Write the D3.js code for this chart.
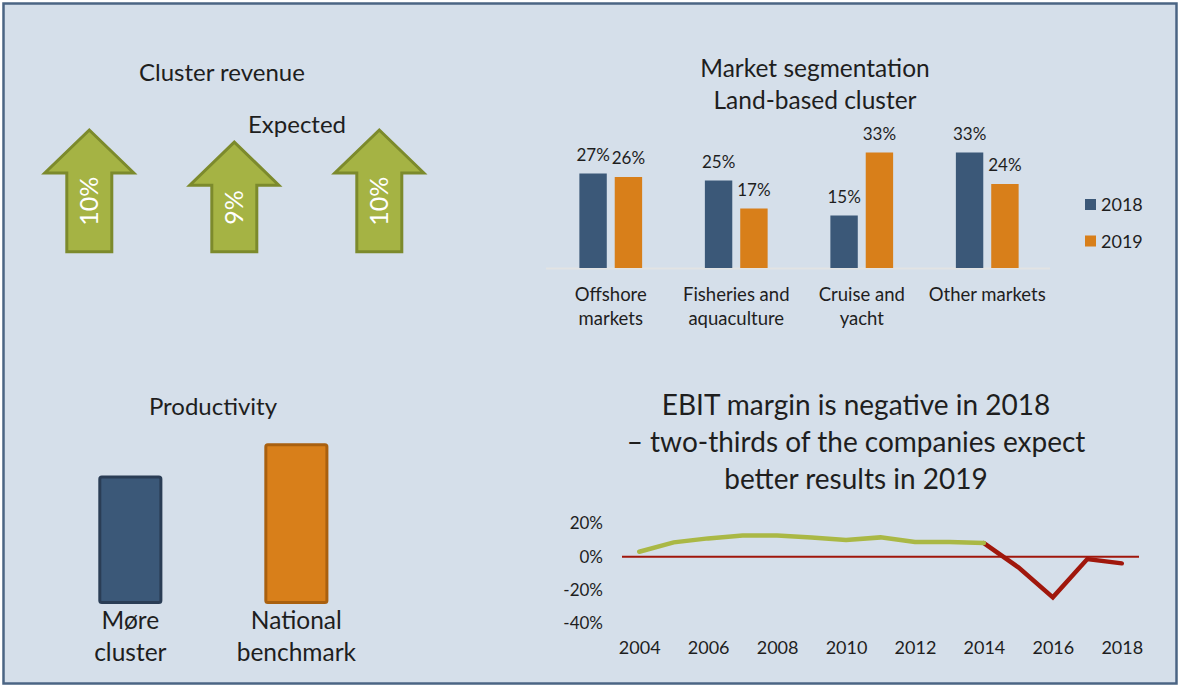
<!DOCTYPE html>
<meta charset="utf-8" />
<script src="https://d3js.org/d3.v7.min.js"></script>
<div id="my_dataviz"></div>
<script>
  // ---- data ----
  const revenueLabels = ["10%", "9%", "10%"];
  const revenueValues = [10, 9, 10];

  const segCategories = [
    ["Offshore", "markets"],
    ["Fisheries and", "aquaculture"],
    ["Cruise and", "yacht"],
    ["Other markets"],
  ];
  const segYears = ["2018", "2019"];
  const seg2018 = [27, 25, 15, 33];
  const seg2019 = [26, 17, 33, 24];

  const prodLabels = [["Møre", "cluster"], ["National", "benchmark"]];
  const prodValues = [80, 100];

  const ebitYears = d3.range(2004, 2019);
  const ebitValues = [3, 8.6, 11, 12.8, 12.8, 11.6, 10, 11.6, 8.8, 8.8, 8.2, -6.4, -24.4, -1.4, -4];
  const ebitTicks = [20, 0, -20, -40];
  const ebitXTicks = [2004, 2006, 2008, 2010, 2012, 2014, 2016, 2018];

  // ---- setup ----
  const W = 1179, H = 686;
  const blue = "#3b5878", orange = "#d87f1a", ink = "#1e1e1e";
  const font = "Lato, 'Open Sans', sans-serif";

  const svg = d3
    .select("#my_dataviz")
    .append("svg")
    .attr("width", W)
    .attr("height", H)
    .style("font-family", font);

  // panel background + frame
  svg
    .append("rect")
    .attr("x", 3.5)
    .attr("y", 3.5)
    .attr("width", W - 6)
    .attr("height", H - 6)
    .attr("fill", "#d5dfea")
    .attr("stroke", "#4b6584")
    .attr("stroke-width", 2.5);

  function title(x, y, txt, size) {
    svg
      .append("text")
      .attr("x", x)
      .attr("y", y)
      .attr("text-anchor", "middle")
      .style("font-size", size + "px")
      .style("fill", ink)
      .text(txt);
  }

  // ---- Cluster revenue arrows ----
  title(222, 81, "Cluster revenue", 24);
  title(297, 133, "Expected", 24);

  const ax = d3.scaleBand().domain(d3.range(3)).range([16.8, 451.8]);
  const ah = d3.scaleLinear().domain([0, 10]).range([0, 121.7]);
  const arrowBase = 251.7;

  revenueValues.forEach((v, i) => {
    const cx = ax(i) + ax.bandwidth() / 2;
    const top = arrowBase - ah(v);
    const headH = 43, headW = 44.5, shaftW = 22.5;
    const pts = [
      [cx, top],
      [cx + headW, top + headH],
      [cx + shaftW, top + headH],
      [cx + shaftW, arrowBase],
      [cx - shaftW, arrowBase],
      [cx - shaftW, top + headH],
      [cx - headW, top + headH],
    ];
    svg
      .append("path")
      .attr("d", d3.line()(pts) + "Z")
      .attr("fill", "#a5b344")
      .attr("stroke", "#7c8a2c")
      .attr("stroke-width", 3)
      .attr("stroke-linejoin", "miter");
    // label sits in the upper part of the shaft
    const ty = (top + headH + arrowBase) / 2 - 11;
    svg
      .append("text")
      .attr("transform", `translate(${cx + 9}, ${ty}) rotate(-90)`)
      .attr("text-anchor", "middle")
      .style("font-size", "25px")
      .style("fill", "#ffffff")
      .text(revenueLabels[i]);
  });

  // ---- Market segmentation ----
  title(815, 77, "Market segmentation", 24.5);
  title(815, 109, "Land-based cluster", 24.5);

  const segData = segCategories.map((c, i) => ({
    key: i,
    values: [
      { year: "2018", v: seg2018[i] },
      { year: "2019", v: seg2019[i] },
    ],
  }));

  const x0 = d3
    .scaleBand()
    .domain(d3.range(segCategories.length))
    .range([548, 1050])
    .paddingInner(0.5)
    .paddingOuter(0.25);
  const x1 = d3.scaleBand().domain(segYears).range([0, x0.bandwidth()]).paddingInner(0.225);
  const yS = d3.scaleLinear().domain([0, 33]).range([268, 268 - 115.5]);
  const segColor = d3.scaleOrdinal().domain(segYears).range([blue, orange]);

  svg
    .append("line")
    .attr("x1", 546)
    .attr("x2", 1050)
    .attr("y1", 268.5)
    .attr("y2", 268.5)
    .attr("stroke", "#e2e3e3")
    .attr("stroke-width", 2);

  const groups = svg
    .selectAll(".grp")
    .data(segData)
    .join("g")
    .attr("transform", (d) => `translate(${x0(d.key)},0)`);

  groups
    .selectAll("rect")
    .data((d) => d.values)
    .join("rect")
    .attr("x", (d) => x1(d.year))
    .attr("y", (d) => yS(d.v))
    .attr("width", x1.bandwidth())
    .attr("height", (d) => yS(0) - yS(d.v))
    .attr("fill", (d) => segColor(d.year));

  groups
    .selectAll("text.lbl")
    .data((d) => d.values)
    .join("text")
    .attr("class", "lbl")
    .attr("x", (d) => x1(d.year) + x1.bandwidth() / 2)
    .attr("y", (d) => yS(d.v) - 13)
    .attr("text-anchor", "middle")
    .style("font-size", "17px")
    .style("fill", ink)
    .text((d) => d.v + "%");

  segCategories.forEach((lines, i) => {
    const t = svg
      .append("text")
      .attr("text-anchor", "middle")
      .style("font-size", "18.5px")
      .style("fill", ink);
    lines.forEach((l, j) => {
      t.append("tspan")
        .attr("x", x0(i) + x0.bandwidth() / 2)
        .attr("y", 301 + j * 24)
        .text(l);
    });
  });

  // legend
  segYears.forEach((yr, i) => {
    svg
      .append("rect")
      .attr("x", 1085)
      .attr("y", 199 + i * 36.5)
      .attr("width", 11)
      .attr("height", 11)
      .attr("fill", segColor(yr));
    svg
      .append("text")
      .attr("x", 1101)
      .attr("y", 211 + i * 36.5)
      .style("font-size", "18px")
      .style("fill", ink)
      .text(yr);
  });

  // ---- Productivity ----
  title(213, 415, "Productivity", 24);

  const px = d3
    .scaleBand()
    .domain(d3.range(2))
    .range([47, 379.7])
    .paddingInner(0.614)
    .paddingOuter(0.309);
  const py = d3.scaleLinear().domain([0, 100]).range([604, 443.3]);
  const prodFill = [blue, orange];
  const prodStroke = ["#2a3d55", "#a9600f"];

  prodValues.forEach((v, i) => {
    svg
      .append("rect")
      .attr("x", px(i) + 1.5)
      .attr("y", py(v) + 1.5)
      .attr("width", px.bandwidth() - 3)
      .attr("height", py(0) - py(v) - 3)
      .attr("rx", 2)
      .attr("fill", prodFill[i])
      .attr("stroke", prodStroke[i])
      .attr("stroke-width", 3);
    const t = svg
      .append("text")
      .attr("text-anchor", "middle")
      .style("font-size", "24.5px")
      .style("fill", ink);
    prodLabels[i].forEach((l, j) => {
      t.append("tspan")
        .attr("x", px(i) + px.bandwidth() / 2)
        .attr("y", 629 + j * 32)
        .text(l);
    });
  });

  // ---- EBIT margin ----
  title(856, 415, "EBIT margin is negative in 2018", 28);
  title(856, 452, "– two-thirds of the companies expect", 28);
  title(856, 489, "better results in 2019", 28);

  const lx = d3.scaleLinear().domain([2003.5, 2018.5]).range([622, 1139]);
  const ly = d3.scaleLinear().domain([0, 20]).range([556.7, 523.4]);

  svg
    .append("g")
    .attr("transform", "translate(605,0)")
    .call(d3.axisLeft(ly).tickValues(ebitTicks).tickSize(0).tickFormat((d) => d + "%"))
    .call((g) => g.select(".domain").remove())
    .selectAll("text")
    .style("font-size", "17px")
    .style("font-family", font)
    .style("fill", ink)
    .attr("x", -2);

  svg
    .append("g")
    .attr("transform", "translate(0,640)")
    .call(d3.axisBottom(lx).tickValues(ebitXTicks).tickSize(0).tickFormat(d3.format("d")))
    .call((g) => g.select(".domain").remove())
    .selectAll("text")
    .style("font-size", "18px")
    .style("font-family", font)
    .style("fill", ink)
    .attr("dy", "0.71em")
    .attr("y", 1);

  svg
    .append("line")
    .attr("x1", lx(2003.5))
    .attr("x2", lx(2018.5))
    .attr("y1", ly(0))
    .attr("y2", ly(0))
    .attr("stroke", "#a0170c")
    .attr("stroke-width", 2);

  const ebit = ebitYears.map((yr, i) => ({ yr, v: ebitValues[i] }));
  const line = d3
    .line()
    .x((d) => lx(d.yr))
    .y((d) => ly(d.v));

  svg
    .append("path")
    .datum(ebit.filter((d) => d.yr >= 2014))
    .attr("d", line)
    .attr("fill", "none")
    .attr("stroke", "#a0170c")
    .attr("stroke-width", 4.5)
    .attr("stroke-linecap", "round");

  svg
    .append("path")
    .datum(ebit.filter((d) => d.yr <= 2014))
    .attr("d", line)
    .attr("fill", "none")
    .attr("stroke", "#aab845")
    .attr("stroke-width", 4.5)
    .attr("stroke-linecap", "round");
</script>
<style>
  body {
    margin: 0;
    background-color: #ffffff;
  }
</style>
